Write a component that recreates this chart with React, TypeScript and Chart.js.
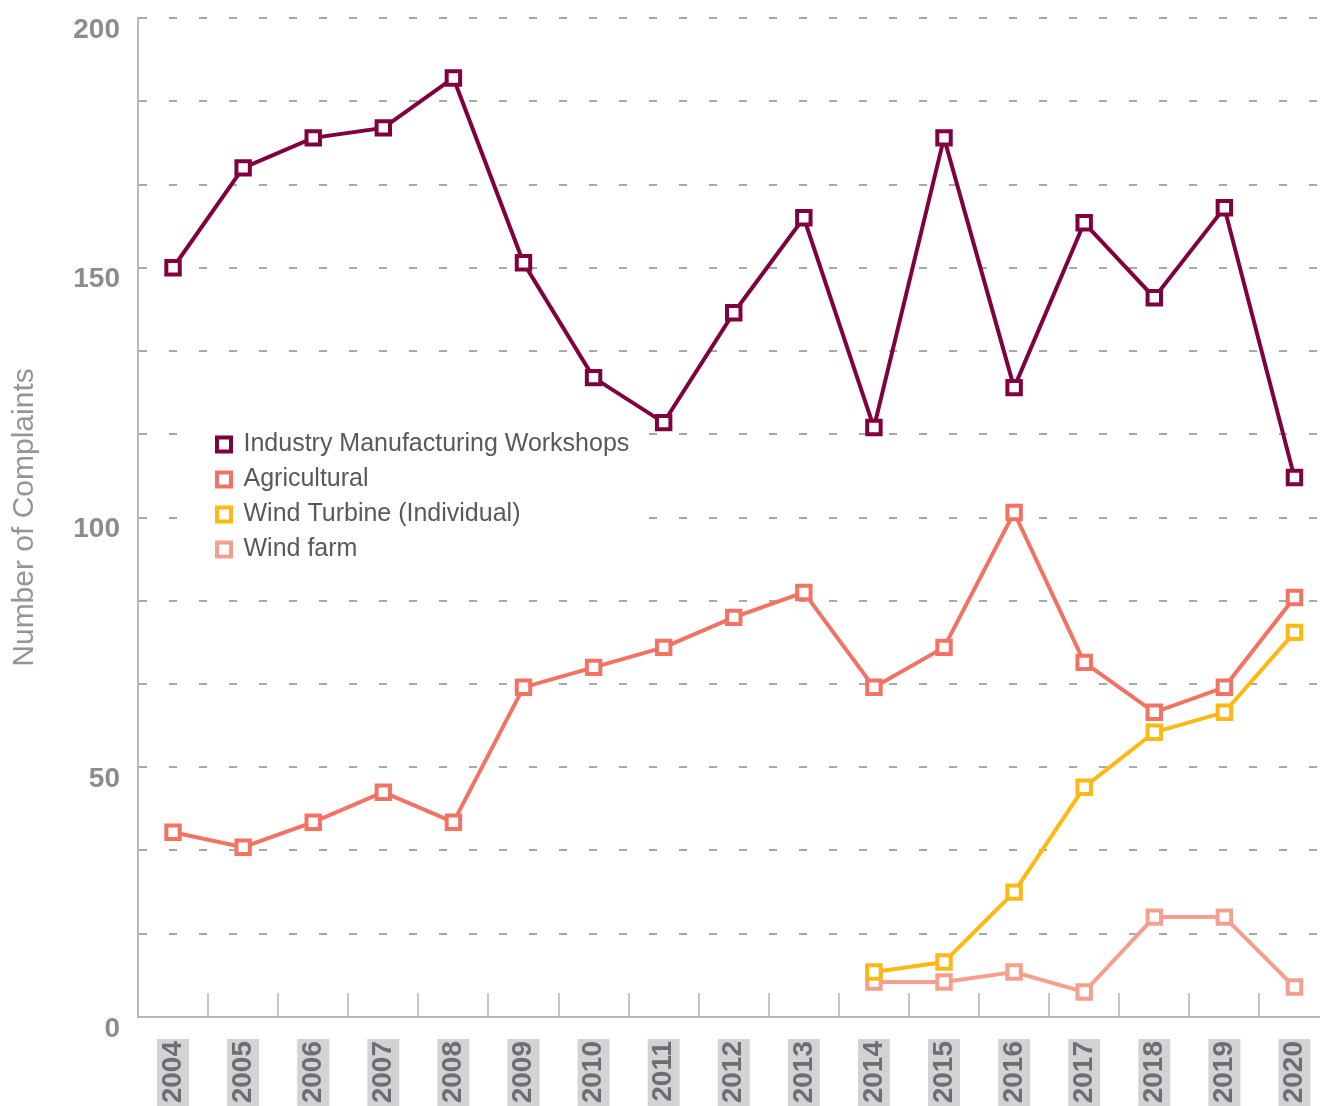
import React, { useEffect, useRef } from 'react';
import { Chart, registerables } from 'chart.js';

Chart.register(...registerables);

const YEARS = ['2004', '2005', '2006', '2007', '2008', '2009', '2010', '2011', '2012', '2013', '2014', '2015', '2016', '2017', '2018', '2019', '2020'];

const INDUSTRY = [150, 170, 176, 178, 188, 151, 128, 119, 141, 160, 118, 176, 126, 159, 144, 162, 108];
const AGRICULTURAL = [37, 34, 39, 45, 39, 66, 70, 74, 80, 85, 66, 74, 101, 71, 61, 66, 84];
const WIND_TURBINE = [null, null, null, null, null, null, null, null, null, null, 9, 11, 25, 46, 57, 61, 77];
const WIND_FARM = [null, null, null, null, null, null, null, null, null, null, 7, 7, 9, 5, 20, 20, 6];

const SERIES_NAMES = ['Industry Manufacturing Workshops', 'Agricultural', 'Wind Turbine (Individual)', 'Wind farm'];
const SERIES_COLORS = ['#800040', '#f37264', '#fdb813', '#f69f8e'];
const SERIES_DATA = [INDUSTRY, AGRICULTURAL, WIND_TURBINE, WIND_FARM];

const Y_TICK_LABELS = [0, 50, 100, 150, 200];
const Y_GRID_PER_LABEL = 3;
const AXIS_TITLE = 'Number of Complaints';

const FONT = "'Liberation Sans', Arial, Helvetica, sans-serif";

const legendPlacer = {
  id: 'legendPlacer',
  afterUpdate(chart: any) {
    const lg = chart.legend;
    if (!lg) return;
    lg.left = 207;
    lg.top = 422;
    lg.width = 470;
    lg.height = 160;
    lg.right = lg.left + lg.width;
    lg.bottom = lg.top + lg.height;
  },
  beforeDatasetsDraw(chart: any) {
    const lg = chart.legend;
    if (!lg) return;
    const ctx = chart.ctx;
    ctx.save();
    ctx.fillStyle = '#ffffff';
    ctx.fillRect(lg.left - 25, lg.top, lg.width - 20, lg.height - 20);
    ctx.restore();
    lg.draw();
  },
};

export default function App() {
  const ref = useRef<HTMLCanvasElement>(null);

  useEffect(() => {
    const canvas = ref.current;
    if (!canvas) return;
    Chart.defaults.font.family = FONT;

    const maxY = Y_TICK_LABELS[Y_TICK_LABELS.length - 1];
    const labelStep = Y_TICK_LABELS[1] - Y_TICK_LABELS[0];
    const gridValues: number[] = [];
    for (let k = 0; k <= (Y_TICK_LABELS.length - 1) * Y_GRID_PER_LABEL; k++) {
      gridValues.push((k * labelStep) / Y_GRID_PER_LABEL);
    }

    const chart = new Chart(canvas, {
      type: 'line',
      data: {
        labels: YEARS,
        datasets: SERIES_DATA.map((d, i) => ({
          label: SERIES_NAMES[i],
          data: d,
          borderColor: SERIES_COLORS[i],
          backgroundColor: '#ffffff',
          borderWidth: 4,
          pointStyle: 'rect',
          pointRadius: 9.5,
          pointBorderWidth: 4,
          pointBackgroundColor: '#ffffff',
          pointBorderColor: SERIES_COLORS[i],
          tension: 0,
          fill: false,
        })),
      },
      options: {
        responsive: false,
        animation: false,
        devicePixelRatio: 1,
        layout: { padding: { top: 18, left: 0, right: 2, bottom: 0 } },
        plugins: {
          tooltip: { enabled: false },
          legend: {
            display: true,
            position: 'chartArea',
            align: 'start',
            labels: {
              usePointStyle: true,
              pointStyle: 'rect',
              boxWidth: 14,
              boxHeight: 14,
              padding: 10,
              color: '#58595b',
              font: { family: FONT, size: 25 },
            },
          },
        },
        scales: {
          x: {
            offset: true,
            grid: {
              display: true,
              offset: true,
              drawOnChartArea: false,
              drawTicks: true,
              tickLength: -24,
              color: '#c4c5c7',
              lineWidth: 2,
            },
            border: { display: true, color: '#b8b9bb', width: 2 },
            ticks: {
              autoSkip: false,
              maxRotation: 90,
              minRotation: 90,
              padding: 48,
              labelOffset: -14,
              color: '#6d6e71',
              font: { family: FONT, size: 28, weight: 'bold', lineHeight: 1 },
              showLabelBackdrop: true,
              backdropColor: '#d1d3d4',
              backdropPadding: { top: 2, bottom: 2, left: 10, right: 2 },
            },
            afterFit: (s: any) => {
              s.height = 89;
              s.paddingLeft = 0;
              s.paddingRight = 0;
            },
          },
          y: {
            min: 0,
            max: maxY,
            afterBuildTicks: (s: any) => {
              s.ticks = gridValues.map((v) => ({ value: v }));
            },
            grid: {
              color: '#a7a9ac',
              lineWidth: 2,
              drawTicks: false,
            },
            border: { display: true, color: '#b8b9bb', width: 2, dash: [8, 22] },
            ticks: {
              padding: 18,
              labelOffset: 12,
              color: '#8a8c8f',
              font: { family: FONT, size: 28, weight: 'bold' },
              callback: (v: any) => {
                const n = Number(v);
                const hit = Y_TICK_LABELS.find((t) => Math.abs(t - n) < 1e-6);
                return hit !== undefined ? String(hit) : '';
              },
            },
            title: {
              display: true,
              text: AXIS_TITLE,
              color: '#939598',
              font: { family: FONT, size: 30, weight: 'normal' },
              padding: { top: 7, bottom: 0 },
            },
            afterFit: (s: any) => {
              s.width = 138;
              s.paddingTop = 0;
              s.paddingBottom = 0;
            },
          },
        },
      } as any,
      plugins: [legendPlacer],
    });

    return () => {
      chart.destroy();
    };
  }, []);

  return (
    <div style={{ position: 'absolute', left: 0, top: 0, width: 1320, height: 1106, overflow: 'hidden', background: '#ffffff' }}>
      <canvas ref={ref} width={1343} height={1106} style={{ display: 'block' }} />
    </div>
  );
}
